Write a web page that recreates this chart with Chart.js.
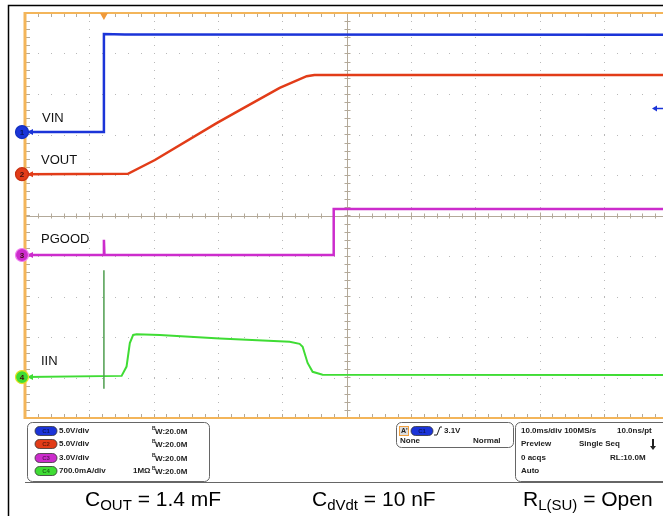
<!DOCTYPE html>
<html>
<head>
<meta charset="utf-8">
<script src="https://cdn.jsdelivr.net/npm/chart.js@4.4.1/dist/chart.umd.min.js"></script>
<style>
html, body { margin: 0; padding: 0; background: #fff; }
#wrap { width: 663px; height: 516px; }
</style>
</head>
<body>
<div id="wrap"><canvas id="scope" width="663" height="516"></canvas></div>
<script>
// time in ms from left edge of screen (10 ms/div), level in divisions from centre
const vinTime = [0, 12.27, 12.27, 15.5, 99.2];
const vinLevel = [2.06, 2.06, 4.48, 4.47, 4.46];

const voutTime = [0, 16.0, 20.2, 29.8, 33.4, 39.6, 43.8, 45.0, 99.2];
const voutLevel = [1.02, 1.03, 1.37, 2.28, 2.60, 3.15, 3.44, 3.47, 3.47];

const pgoodTime = [0, 12.2, 12.27, 12.35, 48.0, 48.0, 99.2];
const pgoodLevel = [-0.975, -0.975, -0.6, -0.975, -0.975, 0.16, 0.16];

const iinTime = [0, 15.02, 15.79, 16.30, 16.82, 17.35, 20.96, 30.28, 41.15, 42.70, 43.17, 43.94, 44.72, 46.27, 99.2];
const iinLevel = [-3.99, -3.96, -3.73, -3.15, -2.95, -2.93, -2.95, -3.04, -3.12, -3.17, -3.24, -3.64, -3.86, -3.93, -3.94];

const spikeTime = [12.27, 12.27];
const spikeLevel = [-1.35, -4.28];

const channelNames = ['VIN', 'VOUT', 'PGOOD', 'IIN'];
const channelScales = ['5.0V/div', '5.0V/div', '3.0V/div', '700.0mA/div'];
const triggerTime = 12.27;
const triggerLevel = 2.65;

const colors = ['#1b34d8', '#e23c18', '#cc2ccc', '#3fdc34'];

function pts(t, v) {
    return t.map((tt, i) => ({ x: tt, y: v[i] }));
}

const scopePlugin = {
    id: 'scopePlugin',
    beforeDatasetsDraw(chart) {
        const ctx = chart.ctx;
        const a = chart.chartArea;
        const x = chart.scales.x, y = chart.scales.y;
        ctx.save();
        ctx.fillStyle = '#fff';
        ctx.fillRect(0, 0, chart.width, chart.height);

        // black frame
        ctx.strokeStyle = '#000';
        ctx.lineWidth = 1.5;
        ctx.beginPath();
        ctx.moveTo(8.5, 516);
        ctx.lineTo(8.5, 5.5);
        ctx.lineTo(663, 5.5);
        ctx.stroke();

        // dotted grid
        ctx.fillStyle = '#b8b8b8';
        for (let gx = 10; gx < 100; gx += 10) {
            if (gx === 50) continue;
            const px = Math.round(x.getPixelForValue(gx));
            for (let m = -5; m <= 5.001; m += 0.2) {
                ctx.fillRect(px, Math.round(y.getPixelForValue(m)), 1, 1);
            }
        }
        for (let gy = -4; gy <= 4; gy++) {
            if (gy === 0) continue;
            const py = Math.round(y.getPixelForValue(gy));
            for (let m = 0; m <= 99.2; m += 2) {
                ctx.fillRect(Math.round(x.getPixelForValue(m)), py, 1, 1);
            }
        }

        // centre cross with ticks
        ctx.strokeStyle = '#b3a999';
        ctx.lineWidth = 1;
        const cy = Math.round(y.getPixelForValue(0)) + 0.5;
        const cx = Math.round(x.getPixelForValue(50)) + 0.5;
        ctx.beginPath();
        ctx.moveTo(a.left, cy); ctx.lineTo(a.right, cy);
        ctx.moveTo(cx, a.top); ctx.lineTo(cx, a.bottom);
        for (let m = 2; m <= 99.2; m += 2) {
            const px = Math.round(x.getPixelForValue(m)) + 0.5;
            const big = Math.abs(m % 10) < 0.01;
            ctx.moveTo(px, cy - (big ? 4 : 3)); ctx.lineTo(px, cy + (big ? 3 : 2));
            // top and bottom edge ticks
            ctx.moveTo(px, a.top); ctx.lineTo(px, a.top + 4);
            ctx.moveTo(px, a.bottom); ctx.lineTo(px, a.bottom - 4);
        }
        for (let m = -5; m <= 5.001; m += 0.2) {
            const py = Math.round(y.getPixelForValue(m)) + 0.5;
            ctx.moveTo(cx - 3, py); ctx.lineTo(cx + 3, py);
            ctx.moveTo(a.left, py); ctx.lineTo(a.left + 5, py);
        }
        ctx.stroke();
        ctx.restore();
    },
    afterDatasetsDraw(chart) {
        const ctx = chart.ctx;
        const a = chart.chartArea;
        const x = chart.scales.x, y = chart.scales.y;
        ctx.save();

        // orange screen border
        ctx.strokeStyle = '#f3b55a';
        ctx.lineWidth = 2;
        ctx.beginPath();
        ctx.moveTo(a.left, a.top); ctx.lineTo(a.right, a.top);
        ctx.moveTo(a.left, a.bottom); ctx.lineTo(a.right, a.bottom);
        ctx.stroke();
        ctx.lineWidth = 3;
        ctx.beginPath();
        ctx.moveTo(a.left, a.top - 1); ctx.lineTo(a.left, a.bottom + 1);
        ctx.stroke();

        // trigger position marker
        const tx = x.getPixelForValue(triggerTime);
        ctx.fillStyle = '#f09a3a';
        ctx.beginPath();
        ctx.moveTo(tx - 4, a.top); ctx.lineTo(tx + 4, a.top); ctx.lineTo(tx, a.top + 7);
        ctx.closePath(); ctx.fill();

        // trigger level arrow
        const ty = Math.round(y.getPixelForValue(triggerLevel)) + 0.5;
        ctx.fillStyle = colors[0]; ctx.strokeStyle = colors[0]; ctx.lineWidth = 1.5;
        ctx.beginPath();
        ctx.moveTo(652, ty); ctx.lineTo(657, ty - 3); ctx.lineTo(657, ty + 3); ctx.closePath(); ctx.fill();
        ctx.beginPath(); ctx.moveTo(656, ty); ctx.lineTo(663, ty); ctx.stroke();

        // channel markers
        const levels = [vinLevel[0], voutLevel[0], pgoodLevel[0], iinLevel[0]];
        const rims = ['#1230c0', '#c83010', '#f080f0', '#e8e020'];
        levels.forEach((lv, i) => {
            const py = y.getPixelForValue(lv);
            ctx.fillStyle = colors[i];
            ctx.beginPath(); ctx.moveTo(27, py); ctx.lineTo(33, py - 3); ctx.lineTo(33, py + 3); ctx.closePath(); ctx.fill();
            ctx.beginPath(); ctx.arc(22, py, 6.5, 0, Math.PI * 2);
            ctx.fill();
            ctx.lineWidth = 1.2; ctx.strokeStyle = rims[i]; ctx.stroke();
            ctx.fillStyle = i === 0 ? '#0a1660' : '#401010';
            ctx.font = 'bold 8px "Liberation Sans"';
            ctx.textAlign = 'center'; ctx.textBaseline = 'middle';
            ctx.fillText(String(i + 1), 22, py + 0.5);
        });

        // channel labels
        ctx.fillStyle = '#111';
        ctx.font = '13px "Liberation Sans"';
        ctx.textAlign = 'left'; ctx.textBaseline = 'alphabetic';
        const labelPos = [[42, 122], [41, 164], [41, 243], [41, 365]];
        channelNames.forEach((n, i) => ctx.fillText(n, labelPos[i][0], labelPos[i][1]));

        // bottom readout panel
        ctx.strokeStyle = '#666'; ctx.lineWidth = 1;
        ctx.beginPath(); ctx.moveTo(25, 482.5); ctx.lineTo(663, 482.5); ctx.stroke();
        ctx.beginPath(); ctx.roundRect(27.5, 422.5, 182, 59, 5); ctx.stroke();
        ctx.beginPath(); ctx.roundRect(396.5, 422.5, 117, 25, 5); ctx.stroke();
        ctx.beginPath(); ctx.roundRect(515.5, 422.5, 170, 59, 5); ctx.stroke();

        const pill = (px, py, col, txt) => {
            ctx.save();
            ctx.fillStyle = col;
            ctx.beginPath(); ctx.roundRect(px, py - 4.5, 22, 9, 4.5); ctx.fill();
            ctx.strokeStyle = '#333'; ctx.lineWidth = 0.8; ctx.stroke();
            ctx.fillStyle = 'rgba(0,0,0,0.55)';
            ctx.font = 'bold 6px "Liberation Sans"';
            ctx.textAlign = 'center'; ctx.textBaseline = 'middle';
            ctx.fillText(txt, px + 11, py + 0.5);
            ctx.restore();
        };
        const rowsY = [431, 444, 458, 471];
        ctx.textAlign = 'left'; ctx.textBaseline = 'middle';
        rowsY.forEach((ry, i) => {
            pill(35, ry, colors[i], 'C' + (i + 1));
            ctx.fillStyle = '#222';
            ctx.font = 'bold 8px "Liberation Sans"';
            ctx.fillText(channelScales[i], 59, ry);
            ctx.font = 'bold 5px "Liberation Sans"';
            ctx.fillText('B', 152, ry - 2);
            ctx.font = 'bold 8px "Liberation Sans"';
            ctx.fillText('W:20.0M', 155, ry + 1);
            if (i === 3) ctx.fillText('1M\u03A9', 133, ry);
        });

        // trigger readout
        ctx.fillStyle = '#ddd'; ctx.strokeStyle = '#f0a040'; ctx.lineWidth = 1;
        ctx.fillRect(399.5, 426.5, 9, 9); ctx.strokeRect(399.5, 426.5, 9, 9);
        ctx.fillStyle = '#222'; ctx.font = 'bold 7px "Liberation Sans"';
        ctx.fillText("A'", 401, 431);
        pill(411, 431, colors[0], 'C1');
        ctx.strokeStyle = '#222'; ctx.lineWidth = 1;
        ctx.beginPath(); ctx.moveTo(434, 435); ctx.lineTo(437, 435); ctx.lineTo(440, 427); ctx.lineTo(442, 427); ctx.stroke();
        ctx.fillStyle = '#222'; ctx.font = 'bold 8px "Liberation Sans"';
        ctx.fillText('3.1V', 444, 431);
        ctx.fillText('None', 400, 441);
        ctx.fillText('Normal', 473, 441);

        // timebase readout
        ctx.fillText('10.0ms/div 100MS/s', 521, 431);
        ctx.fillText('10.0ns/pt', 617, 431);
        ctx.fillText('Preview', 521, 444);
        ctx.fillText('Single Seq', 579, 444);
        ctx.fillText('0 acqs', 521, 458);
        ctx.fillText('RL:10.0M', 610, 458);
        ctx.fillText('Auto', 521, 471);
        ctx.lineWidth = 2;
        ctx.beginPath(); ctx.moveTo(653, 439); ctx.lineTo(653, 447); ctx.stroke();
        ctx.beginPath(); ctx.moveTo(650, 446); ctx.lineTo(656, 446); ctx.lineTo(653, 450); ctx.closePath(); ctx.fill();

        // captions
        const caption = (px, main, sub, rest) => {
            ctx.textAlign = 'left'; ctx.textBaseline = 'alphabetic';
            ctx.fillStyle = '#000';
            ctx.font = '21px "Liberation Sans"';
            ctx.fillText(main, px, 506);
            let cx = px + ctx.measureText(main).width;
            ctx.font = '15px "Liberation Sans"';
            ctx.fillText(sub, cx, 510);
            cx += ctx.measureText(sub).width;
            ctx.font = '21px "Liberation Sans"';
            ctx.fillText(rest, cx, 506);
        };
        caption(85, 'C', 'OUT', ' = 1.4 mF');
        caption(312, 'C', 'dVdt', ' = 10 nF');
        caption(523, 'R', 'L(SU)', ' = Open');
        ctx.restore();
    }
};

const ds = (t, v, col, w) => ({
    data: pts(t, v), borderColor: col, borderWidth: w,
    pointRadius: 0, tension: 0, fill: false
});

new Chart(document.getElementById('scope'), {
    type: 'line',
    data: {
        datasets: [
            ds(spikeTime, spikeLevel, '#4f9e4f', 1.5),
            ds(iinTime, iinLevel, colors[3], 2),
            ds(pgoodTime, pgoodLevel, colors[2], 2.5),
            ds(voutTime, voutLevel, colors[1], 2.5),
            ds(vinTime, vinLevel, colors[0], 2.5)
        ]
    },
    options: {
        responsive: false,
        animation: false,
        events: [],
        layout: { padding: { left: 25, top: 13, right: 0, bottom: 98 } },
        plugins: { legend: { display: false }, tooltip: { enabled: false } },
        scales: {
            x: { type: 'linear', min: 0, max: 99.2, display: false },
            y: { type: 'linear', min: -5, max: 5, display: false }
        }
    },
    plugins: [scopePlugin]
});
</script>
</body>
</html>
